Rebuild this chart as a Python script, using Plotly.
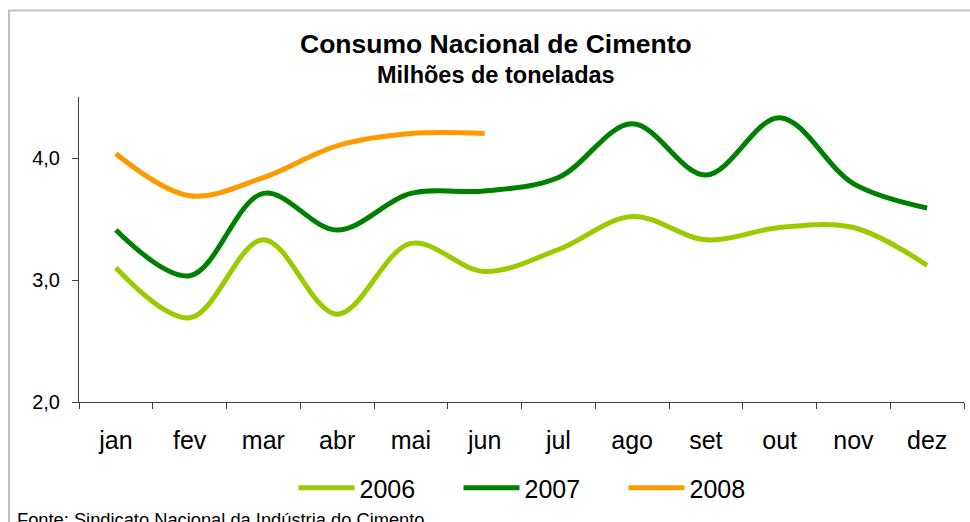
import plotly.graph_objects as go

months = ["jan", "fev", "mar", "abr", "mai", "jun", "jul", "ago", "set", "out", "nov", "dez"]
v2006 = [3.10, 2.69, 3.33, 2.72, 3.30, 3.07, 3.25, 3.52, 3.33, 3.43, 3.43, 3.12]
v2007 = [3.41, 3.035, 3.71, 3.41, 3.71, 3.73, 3.84, 4.28, 3.86, 4.33, 3.79, 3.59]
v2008 = [4.035, 3.69, 3.84, 4.10, 4.20, 4.20]
series = [("2006", v2006, "#99CC00"), ("2007", v2007, "#008000"), ("2008", v2008, "#FF9900")]

FONT = "Liberation Sans, Arial, sans-serif"
L, R, T, B = 79, 6, 97, 120
W, H = 970, 522
PW, PH = W - L - R, H - T - B

def px_x(p):
    return (p - L) / PW

def px_y(p):
    return (H - B - p) / PH

fig = go.Figure()
for name, vals, col in series:
    fig.add_trace(go.Scatter(
        x=months[:len(vals)], y=vals, name=name, mode="lines",
        line=dict(color=col, width=5, shape="spline", smoothing=1.0),
    ))

fig.update_layout(
    width=W, height=H,
    margin=dict(l=L, r=R, t=T, b=B, pad=0),
    paper_bgcolor="white", plot_bgcolor="white",
    separators=", ",
    font=dict(family=FONT, color="black"),
    showlegend=True,
    legend=dict(
        orientation="h", x=px_x(541), xanchor="center", y=px_y(488), yanchor="middle",
        font=dict(size=25, family=FONT), itemwidth=56,
        entrywidth=94, entrywidthmode="pixels", bgcolor="rgba(0,0,0,0)",
    ),
    xaxis=dict(
        type="category", categoryorder="array", categoryarray=months,
        range=[-0.5, 11.5], tickson="boundaries", ticks="outside", ticklen=6,
        tickcolor="#404040", showline=True, linecolor="#404040", linewidth=1,
        showgrid=False, zeroline=False, tickfont=dict(size=25, family=FONT),
        ticklabelstandoff=16,
    ),
    yaxis=dict(
        range=[2, 4.5], tickvals=[2, 3, 4], tickformat=".1f", ticks="outside",
        ticklen=6, tickcolor="#404040", showline=True, linecolor="#404040",
        linewidth=1, showgrid=False, zeroline=False,
        tickfont=dict(size=20, family=FONT), ticklabelstandoff=8,
    ),
    shapes=[dict(
        type="rect", xref="paper", yref="paper",
        x0=px_x(9), x1=px_x(990), y0=px_y(560), y1=px_y(10.5),
        line=dict(color="#C0C0C0", width=2), fillcolor="rgba(0,0,0,0)", layer="below",
    )],
    annotations=[
        dict(text="<b>Consumo Nacional de Cimento</b>", xref="paper", yref="paper",
             x=px_x(496), y=px_y(44.5), xanchor="center", yanchor="middle",
             showarrow=False, font=dict(size=26.5, family=FONT)),
        dict(text="<b>Milhões de toneladas</b>", xref="paper", yref="paper",
             x=px_x(496), y=px_y(74.5), xanchor="center", yanchor="middle",
             showarrow=False, font=dict(size=23.5, family=FONT)),
        dict(text="Fonte: Sindicato Nacional da Indústria do Cimento", xref="paper", yref="paper",
             x=px_x(15), y=px_y(507), xanchor="left", yanchor="top",
             showarrow=False, font=dict(size=18.3, family=FONT)),
    ],
)

fig.write_html(
    "out.html",
    config={"displayModeBar": False},
    post_script="document.body.style.margin='0';document.body.style.overflow='hidden';",
)
